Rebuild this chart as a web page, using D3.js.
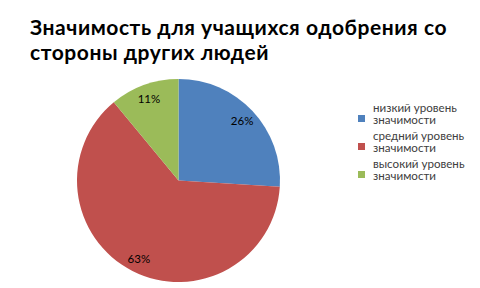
<!DOCTYPE html>
<html><head><meta charset="utf-8">
<script src="https://cdn.jsdelivr.net/npm/d3@7"></script>
<style>body{margin:0;background:#fff}svg{display:block}</style>
</head><body>
<script>
const titleLines = ["Значимость для учащихся одобрения со", "стороны других людей"];
const categories = [["низкий уровень","значимости"],["средний уровень","значимости"],["высокий уровень","значимости"]];
const values = [26, 63, 11];
const colors = ["#4F81BD", "#C0504D", "#9BBB59"];

const W = 480, H = 288;
const svg = d3.select("body").append("svg").attr("width", W).attr("height", H);

titleLines.forEach((line, i) => svg.append("text").attr("x", 30).attr("y", 35 + i * 25.3)
  .attr("font-family", "Lato, 'Open Sans', sans-serif").attr("font-weight", "bold")
  .attr("font-size", 21).attr("letter-spacing", 0.55).attr("fill", "#000").text(line));

const cx = 178.5, cy = 180.5, r = 101.5;
const pie = d3.pie().sort(null).value(d => d)(values);
const arc = d3.arc().innerRadius(0).outerRadius(r);
const g = svg.append("g").attr("transform", `translate(${cx},${cy})`);
g.selectAll("path").data(pie).join("path")
  .attr("d", arc).attr("fill", (d, i) => colors[i]);

const labelArc = d3.arc().innerRadius(r * 0.86).outerRadius(r * 0.86);
g.selectAll("text").data(pie).join("text")
  .attr("transform", d => { const c = labelArc.centroid(d); return `translate(${c[0]},${c[1]})`; })
  .attr("text-anchor", "middle").attr("dominant-baseline", "central")
  .attr("font-family", "Lato, sans-serif").attr("font-size", 11.5).attr("fill", "#000")
  .text(d => d.data + "%");

const leg = svg.append("g").attr("transform", "translate(358,0)");
categories.forEach((c, i) => {
  const y0 = 111.5 + i * 28;
  leg.append("rect").attr("x", 0).attr("y", y0 + 3.5).attr("width", 7).attr("height", 7).attr("fill", colors[i]);
  c.forEach((line, j) => leg.append("text").attr("font-family", "Lato, sans-serif").attr("font-size", 11.6)
    .attr("fill", "#404040").attr("x", 15).attr("y", y0 + j * 12.8).text(line));
});
</script>
</body></html>
